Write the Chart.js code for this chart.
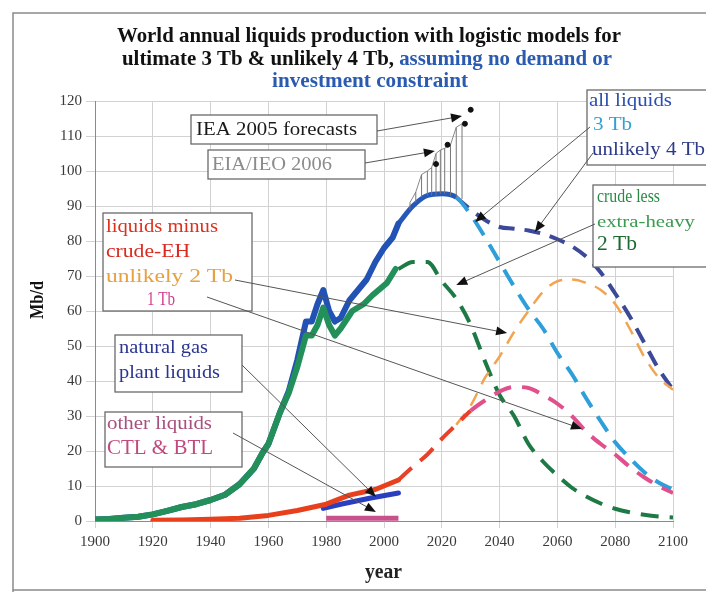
<!DOCTYPE html>
<html>
<head>
<meta charset="utf-8">
<script src="https://cdn.jsdelivr.net/npm/chart.js@4.4.0/dist/chart.umd.min.js"></script>
<style>
  html, body { margin: 0; padding: 0; background: #fff; }
  canvas { display: block; }
</style>
</head>
<body>
<canvas id="chart" width="706" height="592"></canvas>
<script>
// ---- data (Mb/d) ----
const histYears      = [1900,1905,1910,1915,1920,1925,1930,1935,1940,1945,1950,1955,1958,1960,1964,1967,1970,1973,1975,1977,1979,1981,1983,1985,1988,1990,1994,1997,2000,2003,2005];
const allLiquidsHist = [0.4,0.6,0.9,1.2,1.9,2.9,4,4.8,6,7.5,10.5,15,19.5,22,31,37,46,57,57,62,66,60,57,58,63,65,69,74,78,81,85];

const crudeYears = [1900,1905,1910,1915,1920,1925,1930,1935,1940,1945,1950,1955,1958,1960,1964,1967,1970,1973,1975,1977,1979,1981,1983,1985,1989,1993,1996,2001,2004];
const crudeHist  = [0.4,0.6,0.9,1.2,1.9,2.9,4,4.8,6,7.5,10.5,15,19.5,22,31,36.5,44,53,53,56,61,56,53,55,60,62,64.5,68,72];

const redYears     = [1920,1930,1940,1950,1960,1970,1980,1988,1997,2005];
const liquidsMinus = [0.2,0.3,0.5,0.8,1.6,3,4.8,7.4,9,11.7];

const nglYears = [1979,1985,1995,2005];
const ngl      = [3.6,4.8,6.5,8];

const ctlYears = [1980,2005];
const ctl      = [0.8,0.8];

const modelYears = [2005,2010,2015,2020,2025,2030,2035,2040,2045,2050,2055,2060,2065,2070,2075,2080,2085,2090,2095,2100];
const allLiquids3Tb = [85,90,93,93.5,92.5,87.5,81,74,67,60.5,55,48,42,35,28.5,22.5,18,14,11,9];
const crude2Tb      = [72,74,74,68.5,63.5,56,45.5,36,30,22,17,13,9.5,7,5,3.5,2.5,1.8,1.3,1];
const liquids1Tb    = [11.7,15.5,19,23.5,27.5,31.5,34.5,37,38.3,38,36,33.5,30,25.5,22,19,15.5,12.5,10,8];

const lateYears = [2025,2030,2035,2040,2045,2050,2055,2060,2065,2070,2075,2080,2085,2090,2095,2100];
const allLiquids4Tb = [92.5,89,86,84,83.5,83,82,80.5,78.5,75.5,71,65,58.5,51,43.5,37.5];
const liquids2Tb    = [27.5,33,41,47,54,60,65.5,68.5,69,68,66,62,55,47,41,37.5];

// forecasts hatching (IEA 2005 / EIA IEO 2006)
const hatchYears = [2009,2011,2013,2015,2016.5,2018,2019.5,2021,2023,2025,2027];
const hatchBase  = [89,91,92.5,93,93,93,93.5,93.5,93,92.5,92];
const hatchTop   = [91,94,99,100,101,105,106,106.5,107.5,112.5,113.5];
const markerYears  = [2018,2022,2028,2030];
const markerValues = [102,107.5,113.5,117.5];

const xTicks = [1900,2100,20];
const yTicks = [0,120,10];

// ---- helpers ----
const pts = (xs, ys) => xs.map((v, i) => ({x: v, y: ys[i]}));
function hatchPoints(){
    const out = [];
    hatchYears.forEach((yr, i) => {
        out.push({x: yr, y: hatchBase[i]}, {x: yr, y: hatchTop[i]}, {x: yr, y: null});
    });
    return out;
}
const SERIF = '"Liberation Serif", "DejaVu Serif", serif';
const dashFrom = 2025;

// draw runs of [text, color] on one line, squeezed/stretched to width w
function fitRuns(ctx, runs, x, y, w, size, bold){
    ctx.save();
    ctx.font = (bold ? 'bold ' : '') + size + 'px ' + SERIF;
    ctx.textBaseline = 'middle';
    ctx.textAlign = 'left';
    const widths = runs.map(r => ctx.measureText(r[0]).width);
    const nat = widths.reduce((a, b) => a + b, 0);
    ctx.translate(x, y);
    ctx.scale(w / nat, 1);
    let cx = 0;
    runs.forEach((r, i) => {
        ctx.fillStyle = r[1];
        ctx.fillText(r[0], cx, 0);
        cx += widths[i];
    });
    ctx.restore();
}
const fitText = (ctx, str, x, y, w, color, size, bold) => fitRuns(ctx, [[str, color]], x, y, w, size, bold);

function arrow(ctx, x1, y1, x2, y2){
    const a = Math.atan2(y2 - y1, x2 - x1);
    const len = 11, hw = 4.5;
    ctx.save();
    ctx.strokeStyle = '#555';
    ctx.lineWidth = 1;
    ctx.beginPath();
    ctx.moveTo(x1, y1);
    ctx.lineTo(x2 - Math.cos(a) * len * 0.8, y2 - Math.sin(a) * len * 0.8);
    ctx.stroke();
    ctx.fillStyle = '#111';
    ctx.beginPath();
    ctx.moveTo(x2, y2);
    ctx.lineTo(x2 - Math.cos(a) * len - Math.sin(a) * hw, y2 - Math.sin(a) * len + Math.cos(a) * hw);
    ctx.lineTo(x2 - Math.cos(a) * len + Math.sin(a) * hw, y2 - Math.sin(a) * len - Math.cos(a) * hw);
    ctx.closePath();
    ctx.fill();
    ctx.restore();
}

// text boxes: rect + lines [text, x, y, width, color, size]
const noteBoxes = [
    {r:[191,115,186,29], lines:[['IEA 2005 forecasts',196,130,161,'#1a1a1a',19]]},
    {r:[208,150,157,29], lines:[['EIA/IEO 2006',212,165,120,'#8c8c8c',18]]},
    {r:[103,213,149,98], lines:[
        ['liquids minus',106,227,112,'#e0301c',19],
        ['crude-EH',106,252,84,'#d82a20',19],
        ['unlikely 2 Tb',106,277,127,'#e8a040',19],
        ['1 Tb',147,300,28,'#d0408a',19]]},
    {r:[115,335,127,57], lines:[
        ['natural gas',119,348,89,'#2a3590',19],
        ['plant liquids',119,373,101,'#2a3590',19]]},
    {r:[105,412,137,55], lines:[
        ['other liquids',107,424,105,'#a8507e',19],
        ['CTL & BTL',107,448,106,'#c04a80',21]]},
    {r:[587,90,125,75], lines:[
        ['all liquids',589,101,83,'#2a4fb0',19],
        ['3 Tb',593,125,39,'#30a0d8',19],
        ['unlikely 4 Tb',592,150,113,'#2c3a88',19]]},
    {r:[593,185,120,82], lines:[
        ['crude less',597,197,63,'#2a8a45',18],
        ['extra-heavy',597,223,98,'#3a9a50',17],
        ['2 Tb',597,245,40,'#1a6a30',20]]},
];
// arrows: start pixel -> target (year, Mb/d)
const noteArrows = [
    [377,131, 2027,115.7],
    [365,163, 2017.6,105.7],
    [590,127, 2031.5,85.4],
    [593,153, 2052.2,82.6],
    [595,224, 2025,67.4],
    [235,280, 2042.6,53.7],
    [207,297, 2068.5,26.3],
    [242,365, 1997.2,6.9],
    [233,433, 1997.2,2.6],
];

const notesPlugin = {
    id: 'notes',
    afterDraw(chart){
        const {ctx} = chart;
        const sx = chart.scales.x, sy = chart.scales.y;

        // outer frame
        ctx.save();
        ctx.strokeStyle = '#8a8a8a';
        ctx.lineWidth = 1.5;
        ctx.beginPath();
        ctx.moveTo(706, 13); ctx.lineTo(13, 13); ctx.lineTo(13, 592);
        ctx.moveTo(13, 590); ctx.lineTo(706, 590);
        ctx.stroke();
        ctx.restore();

        // title
        const blue = '#2a5bb0';
        fitRuns(ctx, [['World annual liquids production with logistic models for', '#111']], 117, 37, 504, 21, true);
        fitRuns(ctx, [['ultimate 3 Tb & unlikely 4 Tb, ', '#111'], ['assuming no demand or', blue]], 122, 60, 490, 21, true);
        fitRuns(ctx, [['investment constraint', blue]], 272, 82, 196, 21, true);

        // axis titles
        ctx.save();
        ctx.translate(38, 300);
        ctx.rotate(-Math.PI / 2);
        fitText(ctx, 'Mb/d', -19, 0, 38, '#111', 18, true);
        ctx.restore();
        fitText(ctx, 'year', 365, 573, 37, '#222', 20, true);

        // boxes
        noteBoxes.forEach(b => {
            ctx.save();
            ctx.fillStyle = '#fff';
            ctx.strokeStyle = '#6a6a6a';
            ctx.lineWidth = 1.3;
            ctx.fillRect(...b.r);
            ctx.strokeRect(...b.r);
            ctx.restore();
            b.lines.forEach(l => fitText(ctx, l[0], l[1], l[2], l[3], l[4], l[5], false));
        });

        // arrows
        noteArrows.forEach(a => {
            arrow(ctx, a[0], a[1], sx.getPixelForValue(a[2]), sy.getPixelForValue(a[3]));
        });
    }
};

const histLine = (label, data, color, order) => ({
    label, data, borderColor: color, borderWidth: 6, pointRadius: 0,
    tension: 0, borderJoinStyle: 'round', borderCapStyle: 'round', order
});
const modelLine = (label, data, color, width, dash, order) => ({
    label, data, borderColor: color, borderWidth: width, pointRadius: 0,
    cubicInterpolationMode: 'monotone', borderDash: dash, borderCapStyle: 'butt', order
});

const ds3Tb = modelLine('all liquids 3 Tb', pts(modelYears, allLiquids3Tb), '#2e9fda', 4, [], 11);
ds3Tb.segment = {
    borderColor: c => c.p0.parsed.x < dashFrom ? '#2558bb' : '#2e9fda',
    borderDash: c => c.p0.parsed.x < dashFrom ? [] : [18, 11],
    borderWidth: c => c.p0.parsed.x < dashFrom ? 5 : 4
};
const ds1Tb = modelLine('1 Tb', pts(modelYears, liquids1Tb), '#e0508c', 4, [], 5);
ds1Tb.segment = {
    borderColor: c => c.p0.parsed.x < 2030 ? '#e8402a' : '#e0508c',
    borderDash: () => [18, 11]
};
const ngLine = histLine('natural gas plant liquids', pts(nglYears, ngl), '#2a3ec0', 4);
ngLine.borderWidth = 5;
const ctlLine = histLine('CTL & BTL', pts(ctlYears, ctl), '#c8508c', 2);
ctlLine.borderCapStyle = 'butt';
ctlLine.borderWidth = 5;
const redLine = histLine('liquids minus crude-EH', pts(redYears, liquidsMinus), '#e8401c', 3);
redLine.borderWidth = 5;

new Chart(document.getElementById('chart'), {
    type: 'line',
    data: {
        datasets: [
            {label: 'forecast markers', data: pts(markerYears, markerValues), showLine: false,
             pointRadius: 2.5, pointBackgroundColor: '#111', pointBorderColor: '#111', order: 0},
            {label: 'forecast hatch', data: hatchPoints(), borderColor: '#777', borderWidth: 1,
             pointRadius: 0, spanGaps: false, order: 1},
            {label: 'forecast envelope', data: pts(hatchYears, hatchTop), borderColor: '#888', borderWidth: 1,
             pointRadius: 0, order: 1},
            ctlLine,
            ngLine,
            redLine,
            ds1Tb,
            modelLine('unlikely 2 Tb', pts(lateYears, liquids2Tb), '#f2a550', 2.5, [14, 10], 6),
            histLine('crude less extra-heavy', pts(crudeYears, crudeHist), '#23905a', 7),
            modelLine('crude 2 Tb', pts(modelYears, crude2Tb), '#1e7a45', 4, [18, 11], 8),
            histLine('all liquids', pts(histYears, allLiquidsHist), '#2352b5', 9),
            ds3Tb,
            modelLine('unlikely 4 Tb', pts(lateYears, allLiquids4Tb), '#3c4898', 4, [16, 10], 12),
        ]
    },
    options: {
        responsive: false,
        animation: false,
        events: [],
        layout: {padding: {top: 101, right: 33, bottom: 31, left: 0}},
        plugins: {legend: {display: false}, tooltip: {enabled: false}},
        scales: {
            x: {
                type: 'linear', min: xTicks[0], max: xTicks[1],
                afterFit: s => { s.height = 40; },
                ticks: {stepSize: xTicks[2], callback: v => String(v), color: '#3a3a3a',
                        font: {family: SERIF, size: 15}, padding: 5, maxRotation: 0},
                grid: {color: '#d2d2d2', tickLength: 7},
                border: {color: '#8a8a8a'}
            },
            y: {
                min: yTicks[0], max: yTicks[1],
                afterFit: s => { s.width = 95; },
                ticks: {stepSize: yTicks[2], color: '#3a3a3a', font: {family: SERIF, size: 15}, padding: 4},
                grid: {color: '#d2d2d2', tickLength: 9},
                border: {color: '#8a8a8a'}
            }
        }
    },
    plugins: [notesPlugin]
});
</script>
</body>
</html>
